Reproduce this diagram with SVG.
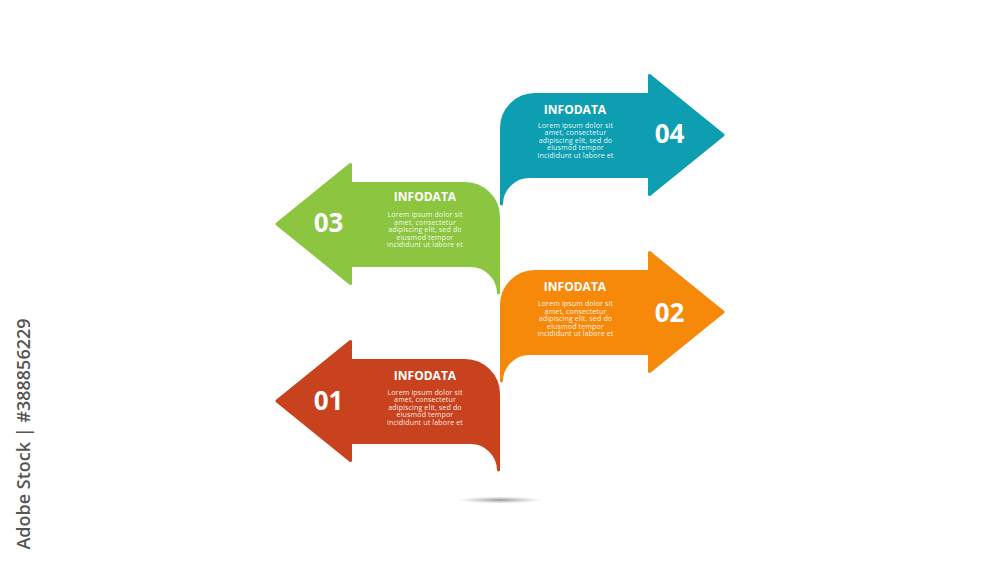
<svg xmlns="http://www.w3.org/2000/svg" width="1000" height="563" viewBox="0 0 1000 563">
<style>
.arrow{stroke-width:3;stroke-linejoin:round}
.t{fill:#fff;font-family:"Open Sans","Liberation Sans",sans-serif;text-anchor:middle}
.h{font-size:12px;font-weight:700}
.b{font-size:7.1px;letter-spacing:0.12px;fill-opacity:0.92}
.n{font-size:26px;font-weight:700}
.wm{font-family:"Open Sans","Liberation Sans",sans-serif;font-size:18px;font-weight:600;fill:#555;text-anchor:middle}
</style>
<defs>
<radialGradient id="sh" cx="0.5" cy="0.5" r="0.5">
<stop offset="0" stop-color="#888" stop-opacity="0.9"/>
<stop offset="0.6" stop-color="#bbb" stop-opacity="0.4"/>
<stop offset="1" stop-color="#fff" stop-opacity="0"/>
</radialGradient>
</defs>
<rect width="1000" height="563" fill="#fff"/>
<ellipse cx="500" cy="500" rx="48" ry="4" fill="url(#sh)"/>
<g id="connectors"></g>
<g id="node01">
<path class="arrow" fill="#c8421e" stroke="#c8421e" d="M277 401 L350.5 341.5 L350.5 360.5 L465 360.5 A33.5 33.5 0 0 1 498.5 394 L498.5 470 A28 28 0 0 0 470 442.5 L350.5 442.5 L350.5 460.5 Z"/>
<text class="t n" x="328.5" y="410">01</text>
<text class="t h" x="425" y="380">INFODATA</text>
<text class="t b" x="425" y="394.7"><tspan x="425">Lorem ipsum dolor sit</tspan><tspan x="425" dy="7.5">amet, consectetur</tspan><tspan x="425" dy="7.5">adipiscing elit, sed do</tspan><tspan x="425" dy="7.5">eiusmod tempor</tspan><tspan x="425" dy="7.5">incididunt ut labore et</tspan></text>
</g>
<g id="node02">
<path class="arrow" fill="#f6890a" stroke="#f6890a" d="M723 312 L649.5 252.5 L649.5 271.5 L535 271.5 A33.5 33.5 0 0 0 501.5 305 L501.5 381 A28 28 0 0 1 530 353.5 L649.5 353.5 L649.5 371.5 Z"/>
<text class="t n" x="669.5" y="322">02</text>
<text class="t h" x="575" y="290.5">INFODATA</text>
<text class="t b" x="575.5" y="306.2"><tspan x="575.5">Lorem ipsum dolor sit</tspan><tspan x="575.5" dy="7.5">amet, consectetur</tspan><tspan x="575.5" dy="7.5">adipiscing elit, sed do</tspan><tspan x="575.5" dy="7.5">eiusmod tempor</tspan><tspan x="575.5" dy="7.5">incididunt ut labore et</tspan></text>
</g>
<g id="node03">
<path class="arrow" fill="#8cc53f" stroke="#8cc53f" d="M277 224 L350.5 164.5 L350.5 183.5 L465 183.5 A33.5 33.5 0 0 1 498.5 217 L498.5 293 A28 28 0 0 0 470 265.5 L350.5 265.5 L350.5 283.5 Z"/>
<text class="t n" x="328.5" y="231.5">03</text>
<text class="t h" x="425" y="201">INFODATA</text>
<text class="t b" x="425" y="217.2"><tspan x="425">Lorem ipsum dolor sit</tspan><tspan x="425" dy="7.5">amet, consectetur</tspan><tspan x="425" dy="7.5">adipiscing elit, sed do</tspan><tspan x="425" dy="7.5">eiusmod tempor</tspan><tspan x="425" dy="7.5">incididunt ut labore et</tspan></text>
</g>
<g id="node04">
<path class="arrow" fill="#0d9fb1" stroke="#0d9fb1" d="M723 135 L649.5 75.5 L649.5 94.5 L535 94.5 A33.5 33.5 0 0 0 501.5 128 L501.5 204 A28 28 0 0 1 530 176.5 L649.5 176.5 L649.5 194.5 Z"/>
<text class="t n" x="669.5" y="142.5">04</text>
<text class="t h" x="575" y="113.5">INFODATA</text>
<text class="t b" x="575.5" y="127.7"><tspan x="575.5">Lorem ipsum dolor sit</tspan><tspan x="575.5" dy="7.5">amet, consectetur</tspan><tspan x="575.5" dy="7.5">adipiscing elit, sed do</tspan><tspan x="575.5" dy="7.5">eiusmod tempor</tspan><tspan x="575.5" dy="7.5">incididunt ut labore et</tspan></text>
</g>
<text class="wm" transform="translate(30,434) rotate(-90)">Adobe Stock | #388856229</text>
</svg>
